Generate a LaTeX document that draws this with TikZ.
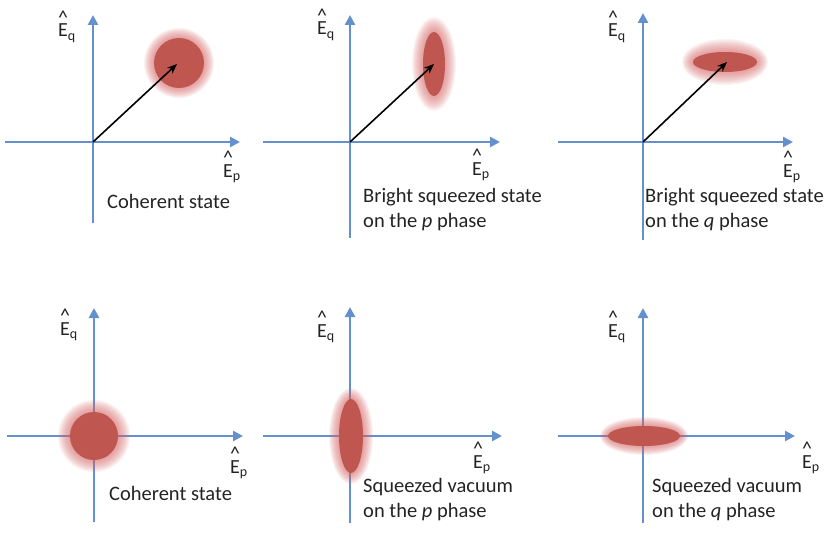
\documentclass[tikz,border=0pt]{standalone}
\usepackage{fontspec}
\setmainfont{Carlito}
\usetikzlibrary{arrows.meta}
\definecolor{axisblue}{RGB}{100,145,205}
\definecolor{corec}{RGB}{192,86,80}
\definecolor{glowc}{RGB}{212,100,100}
\definecolor{txtc}{RGB}{35,35,35}
\newcommand{\opE}[1]{\setbox0=\hbox{E}\rlap{\hbox to \wd0{\hss\raisebox{1.0\ht0}{\textasciicircum}\hss}}E\textsubscript{#1}}
\newcommand{\stateblob}[6]{%
  \foreach \t in {0,0.1,...,1.01} {
    \fill[glowc, fill opacity=0.085] (#1,#2) ellipse ({(#3+(#5-#3)*\t)*1pt} and {(#4+(#6-#4)*\t)*1pt});
  }
  \fill[corec] (#1,#2) ellipse ({#3pt} and {#4pt});
}
\begin{document}
\begin{tikzpicture}[x=1pt,y=-1pt,
  axis/.style={draw=axisblue, line width=2.6pt, -{Triangle[length=10pt,width=10pt]}},
  vec/.style={draw=black, line width=1.6pt, -{Stealth[length=10pt,width=8pt]}},
  lbl/.style={anchor=base west, inner sep=0pt, text=txtc, font=\fontsize{20}{24}\selectfont},
  txt/.style={anchor=base west, inner sep=0pt, align=left, text=txtc, font=\fontsize{20.5}{24.5}\selectfont}]
\useasboundingbox (0,0) rectangle (835,535);
% ---------- panel 1 ----------
\coordinate (o1) at (93,142);
\coordinate (h1a) at (5,142); \coordinate (h1b) at (240,142);
\coordinate (v1a) at (93,223); \coordinate (v1b) at (93,15);
\draw[axis] (h1a) -- (h1b);
\draw[axis] (v1a) -- (v1b);
\stateblob{179}{63}{25}{25}{35}{35}
\coordinate (t1) at (177,64);
\draw[vec] (o1) -- (t1);
\node[lbl] (q1) at (58,37) {\opE{q}};
\node[lbl] (p1) at (223,177) {\opE{p}};
\node[txt] (c1) at (107,208) {Coherent state};
% ---------- panel 2 ----------
\coordinate (o2) at (350,142);
\coordinate (h2a) at (263,142); \coordinate (h2b) at (500,142);
\coordinate (v2a) at (350,238); \coordinate (v2b) at (350,15);
\draw[axis] (h2a) -- (h2b);
\draw[axis] (v2a) -- (v2b);
\stateblob{434}{64}{11}{32}{22}{47}
\coordinate (t2) at (434,64);
\draw[vec] (o2) -- (t2);
\node[lbl] (q2) at (317,35) {\opE{q}};
\node[lbl] (p2) at (472,175) {\opE{p}};
\node[txt] (c2) at (363,227) {Bright squeezed state\\on the \textit{p} phase};
% ---------- panel 3 ----------
\coordinate (o3) at (643,142);
\coordinate (h3a) at (558,142); \coordinate (h3b) at (793,142);
\coordinate (v3a) at (643,240); \coordinate (v3b) at (643,13);
\draw[axis] (h3a) -- (h3b);
\draw[axis] (v3a) -- (v3b);
\stateblob{725}{62}{32}{10}{43}{23}
\coordinate (t3) at (727,62);
\draw[vec] (o3) -- (t3);
\node[lbl] (q3) at (608,37) {\opE{q}};
\node[lbl] (p3) at (783,177) {\opE{p}};
\node[txt] (c3) at (645,227) {Bright squeezed state\\on the \textit{q} phase};
% ---------- panel 4 ----------
\coordinate (h4a) at (7,436); \coordinate (h4b) at (243,436);
\coordinate (v4a) at (94,522); \coordinate (v4b) at (94,308);
\draw[axis] (h4a) -- (h4b);
\draw[axis] (v4a) -- (v4b);
\stateblob{94}{436}{24}{24}{36}{36}
\node[lbl] (q4) at (60,335) {\opE{q}};
\node[lbl] (p4) at (230,473) {\opE{p}};
\node[txt] (c4) at (109,500) {Coherent state};
% ---------- panel 5 ----------
\coordinate (h5a) at (263,436); \coordinate (h5b) at (502,436);
\coordinate (v5a) at (350,523); \coordinate (v5b) at (350,307);
\draw[axis] (h5a) -- (h5b);
\draw[axis] (v5a) -- (v5b);
\stateblob{351}{436}{12}{37}{22}{48}
\node[lbl] (q5) at (317,337) {\opE{q}};
\node[lbl] (p5) at (473,468) {\opE{p}};
\node[txt] (c5) at (363,517) {Squeezed vacuum\\on the \textit{p} phase};
% ---------- panel 6 ----------
\coordinate (h6a) at (558,436); \coordinate (h6b) at (795,436);
\coordinate (v6a) at (643,523); \coordinate (v6b) at (643,308);
\draw[axis] (h6a) -- (h6b);
\draw[axis] (v6a) -- (v6b);
\stateblob{644}{436}{36}{10}{44}{19}
\node[lbl] (q6) at (608,337) {\opE{q}};
\node[lbl] (p6) at (802,468) {\opE{p}};
\node[txt] (c6) at (652,517) {Squeezed vacuum\\on the \textit{q} phase};
\end{tikzpicture}
\end{document}
